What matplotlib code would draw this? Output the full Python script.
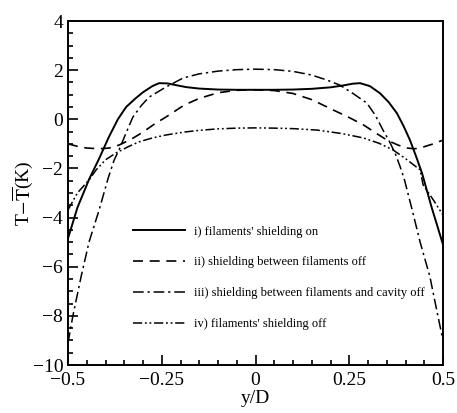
import numpy as np
import matplotlib.pyplot as plt
from matplotlib.ticker import MultipleLocator

plt.rcParams['font.family'] = 'Liberation Serif'
plt.rcParams['mathtext.fontset'] = 'stix'

# i) filaments' shielding on
x1 = [-0.5, -0.475, -0.444, -0.417, -0.391, -0.367, -0.345, -0.32, -0.3, -0.275, -0.257, -0.235,
      -0.212, -0.185, -0.15, -0.1, -0.05, 0.0, 0.05, 0.1, 0.15, 0.2, 0.235, 0.26, 0.279,
      0.305, 0.332, 0.355, 0.377, 0.395, 0.412, 0.428, 0.444, 0.47, 0.5]
y1 = [-4.85, -3.6, -2.45, -1.6, -0.72, 0.0, 0.5, 0.85, 1.1, 1.35, 1.47, 1.46,
      1.39, 1.31, 1.25, 1.21, 1.2, 1.2, 1.2, 1.21, 1.24, 1.3, 1.38, 1.45, 1.47,
      1.35, 1.06, 0.7, 0.25, -0.28, -0.85, -1.5, -2.19, -3.6, -5.1]

# ii) shielding between filaments off
x2 = [-0.5, -0.475, -0.45, -0.417, -0.39, -0.364, -0.33, -0.3, -0.27, -0.239, -0.19, -0.15,
      -0.1, -0.05, 0.0, 0.05, 0.1, 0.15, 0.207, 0.25, 0.288, 0.32, 0.351, 0.38, 0.404,
      0.425, 0.447, 0.47, 0.487, 0.5]
y2 = [-1.0, -1.1, -1.17, -1.2, -1.17, -1.05, -0.8, -0.52, -0.2, 0.09, 0.58, 0.85,
      1.08, 1.18, 1.2, 1.17, 1.05, 0.8, 0.38, 0.07, -0.23, -0.55, -0.85, -1.05, -1.17,
      -1.2, -1.13, -1.02, -0.92, -0.85]

# iii) shielding between filaments and cavity off
x3 = [-0.5, -0.487, -0.465, -0.444, -0.417, -0.393, -0.377, -0.364, -0.345, -0.327, -0.305,
      -0.284, -0.26, -0.239, -0.193, -0.15, -0.1, -0.05, 0.0, 0.05, 0.1, 0.15, 0.19,
      0.225, 0.26, 0.297, 0.32, 0.34, 0.357, 0.372, 0.385, 0.397, 0.418, 0.439, 0.465,
      0.485, 0.5]
y3 = [-9.1, -8.0, -6.4, -5.0, -3.69, -2.4, -1.66, -1.25, -0.55, 0.09, 0.55,
      0.9, 1.12, 1.31, 1.68, 1.85, 1.96, 2.02, 2.04, 2.02, 1.95, 1.8, 1.6,
      1.39, 1.05, 0.66, 0.15, -0.44, -0.9, -1.37, -1.9, -2.45, -3.7, -5.0, -6.4,
      -7.9, -9.0]

# iv) filaments' shielding off
x4 = [-0.5, -0.475, -0.444, -0.425, -0.4, -0.372, -0.34, -0.311, -0.275, -0.239, -0.19,
      -0.15, -0.1, -0.05, 0.0, 0.05, 0.1, 0.165, 0.23, 0.288, 0.33, 0.367, 0.4, 0.439,
      0.447, 0.475, 0.5]
y4 = [-3.69, -3.0, -2.47, -2.06, -1.65, -1.37, -1.12, -0.92, -0.76, -0.64, -0.52,
      -0.45, -0.39, -0.36, -0.35, -0.36, -0.38, -0.44, -0.58, -0.76, -0.98, -1.25, -1.6, -2.06,
      -2.67, -3.3, -3.9]

labels = ["i) filaments' shielding on",
          "ii) shielding between filaments off",
          "iii) shielding between filaments and cavity off",
          "iv) filaments' shielding off"]

fig = plt.figure(figsize=(4.57, 4.13), dpi=100)
ax = fig.add_axes([68 / 457, 1 - 365 / 413, 375 / 457, 344 / 413])

ax.plot(x1, y1, color='black', lw=1.4, label=labels[0])
ax.plot(x2, y2, color='black', lw=1.2, dashes=(6, 4), label=labels[1])
ax.plot(x3, y3, color='black', lw=1.1, dashes=(7, 2.5, 1.5, 2.5), label=labels[2])
ax.plot(x4, y4, color='black', lw=1.1, dashes=(6, 1.8, 1.2, 1.8, 1.2, 1.8), label=labels[3])

ax.set_xlim(-0.5, 0.5)
ax.set_ylim(-10, 4)
ax.set_xticks([-0.5, -0.25, 0, 0.25, 0.5])
ax.set_xticklabels(['\u22120.5', '\u22120.25', '0', '0.25', '0.5'])
ax.set_yticks([-10, -8, -6, -4, -2, 0, 2, 4])
ax.set_yticklabels(['\u221210', '\u22128', '\u22126', '\u22124', '\u22122', '0', '2', '4'])
ax.xaxis.set_minor_locator(MultipleLocator(0.05))
ax.yaxis.set_minor_locator(MultipleLocator(0.5))
ax.tick_params(which='both', direction='in', top=False, right=False, labelsize=14, width=1.2)
ax.tick_params(which='major', length=7)
ax.tick_params(which='minor', length=3.5)
ax.tick_params(axis='x', pad=5)
for s in ax.spines.values():
    s.set_linewidth(1.4)

ax.set_xlabel('y/D', fontsize=14, labelpad=1)
ax.set_ylabel(r'T$-\overline{\rm T}$(K)', fontsize=14, labelpad=-2)

ax.legend(loc='upper left', bbox_to_anchor=(0.173, 0.405), frameon=False,
          fontsize=9, handlelength=4.2, handletextpad=0.65, labelspacing=1.5,
          borderpad=0, borderaxespad=0)

fig.savefig('out.png', dpi=100)
